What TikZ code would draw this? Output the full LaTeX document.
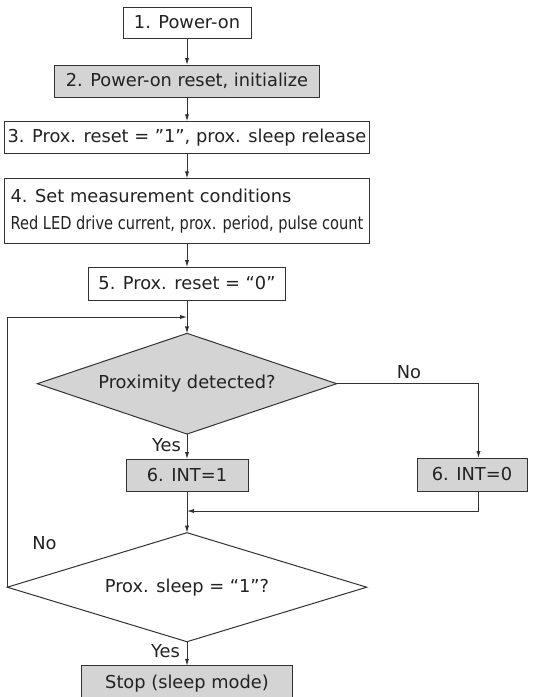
\documentclass[tikz,border=0pt]{standalone}
\usepackage{fontspec}
\setmainfont{DejaVu Sans}
\usetikzlibrary{shapes.geometric,arrows.meta}
\definecolor{ink}{RGB}{34,34,34}
\definecolor{edge}{RGB}{50,50,50}
\definecolor{fillg}{RGB}{212,212,212}
\begin{document}
\begin{tikzpicture}[x=1pt,y=-1pt,
  txt/.style={text=ink,font=\fontsize{17.8}{21}\selectfont},
  proc/.style={txt,draw=edge,line width=1pt,inner sep=0pt,outer sep=0pt,
     minimum width=#1},
  gproc/.style={proc=#1,fill=fillg},
  dec/.style={txt,diamond,draw=edge,line width=1pt,inner sep=0pt,outer sep=0pt,aspect=3},
  conn/.style={draw=edge,line width=0.9pt},
  arr/.style={conn,-{Latex[length=7pt,width=4.2pt]}},
  lbl/.style={txt,inner sep=0pt}]
\useasboundingbox (0,0) rectangle (536,697);
\clip (0,0) rectangle (536,697);
\fill[white] (0,0) rectangle (536,697);

\node[proc=128, minimum height=31] (b1) at (187,22.5) {1. Power-on};
\node[gproc=265, minimum height=32] (b2) at (187,81) {2. Power-on reset, initialize};
\node[proc=365, minimum height=32.5] (b3) at (187,137.5) {3. Prox. reset = ”1”, prox. sleep release};
\node[proc=365, minimum height=64.7, align=left] (b4) at (187,210.7)
  {4. Set measurement conditions\\[6pt]\scalebox{0.82}[1]{Red LED drive current, prox. period, pulse count}};
\node[proc=197, minimum height=33] (b5) at (187,283.5) {5. Prox. reset = “0”};

\node[dec, fill=fillg, minimum width=299.4, minimum height=100.7] (d1) at (187,383.7) {Proximity detected?};
\node[gproc=122, minimum height=32] (i1) at (187,475) {6. INT=1};
\node[gproc=110, minimum height=33] (i0) at (472,474.5) {6. INT=0};
\node[dec, fill=white, minimum width=359.4, minimum height=109] (d2) at (187,587.2) {Prox. sleep = “1”?};
\node[gproc=210.3, minimum height=35.5] (st) at (187,683.5) {Stop (sleep mode)};

\node[lbl] (no1) at (409,372) {No};
\node[lbl, anchor=east] (yes1) at (181,445) {Yes};
\node[lbl] (no2) at (44.5,543) {No};
\node[lbl, anchor=east] (yes2) at (180,651) {Yes};

\coordinate (rt) at (478.5,383.7);
\coordinate (rb) at (478.5,511);
\coordinate (mj) at (187,511);
\coordinate (lt) at (7.3,317);
\coordinate (lj) at (187,317);

\draw[arr] (b1) -- (b2);
\draw[arr] (b2) -- (b3);
\draw[arr] (b3) -- (b4);
\draw[arr] (b4) -- (b5);
\draw[arr] (b5) -- (d1);
\draw[arr] (d1) -- (i1);
\draw[arr] (d1.east) -- (rt) -- (rt |- i0.north);
\draw[conn] (rt |- i0.south) -- (rb);
\draw[arr] (rb) -- (mj);
\draw[arr] (i1) -- (d2);
\draw[arr] (d2) -- (st);
\draw[arr] (d2.west) -- (lt) -- (lj);
\end{tikzpicture}
\end{document}
